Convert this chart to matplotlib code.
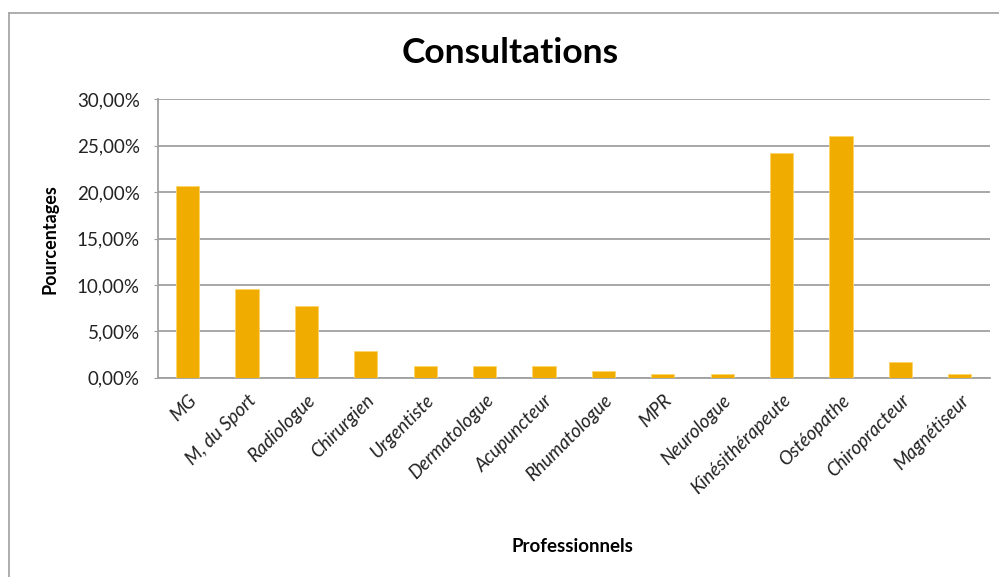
import matplotlib
matplotlib.use("Agg")
import matplotlib.pyplot as plt
from matplotlib.lines import Line2D
from matplotlib.ticker import FuncFormatter

categories = ["MG", "M, du Sport", "Radiologue", "Chirurgien", "Urgentiste",
              "Dermatologue", "Acupuncteur", "Rhumatologue", "MPR", "Neurologue",
              "Kinésithérapeute", "Ostéopathe", "Chiropracteur", "Magnétiseur"]
values = [20.65, 9.61, 7.74, 2.90, 1.23, 1.23, 1.23, 0.72, 0.37, 0.37,
          24.19, 26.06, 1.72, 0.37]
yticks = [0, 5, 10, 15, 20, 25, 30]

plt.rcParams['font.family'] = ['Lato', 'DejaVu Sans']

fig = plt.figure(figsize=(9.99, 5.77), dpi=100)
ax = fig.add_axes([0.158, 0.3454, 0.8326, 0.4822])

x = list(range(len(categories)))
ax.bar(x, values, width=0.39, color="#F0AD00", edgecolor="#FBD66A", linewidth=0.6, zorder=3)

ax.set_xlim(-0.5, len(categories) - 0.5)
ax.set_ylim(0, 30)
ax.set_yticks(yticks)
ax.yaxis.set_major_formatter(FuncFormatter(lambda v, p: f"{v:.2f}%".replace(".", ",")))
ax.grid(axis="y", color="#A0A0A0", linewidth=1.3, zorder=0)
ax.set_axisbelow(True)

ax.set_xticks(x)
ax.set_xticklabels(categories, rotation=45, ha="right", rotation_mode="anchor",
                   fontstyle="italic", fontsize=13.5, color="#222222")
ax.tick_params(axis="x", length=0, pad=10)
ax.tick_params(axis="y", length=3, color="#A0A0A0", labelsize=13.5, labelcolor="#222222", pad=10)

for s in ["top", "right"]:
    ax.spines[s].set_visible(False)
for s in ["left", "bottom"]:
    ax.spines[s].set_color("#A0A0A0")
    ax.spines[s].set_linewidth(1.3)

fig.text(0.511, 0.908, "Consultations", ha="center", va="center",
         fontsize=25.5, fontweight="bold", color="black")
fig.text(0.050, 0.5865, "Pourcentages", ha="center", va="center", rotation=90,
         fontsize=13, fontweight="bold", color="black")
fig.text(0.573, 0.052, "Professionnels", ha="center", va="center",
         fontsize=13.5, fontweight="bold", color="black")

# outer chart border (top and left visible)
fig.add_artist(Line2D([9/999, 9/999], [0, 1 - 13/577], transform=fig.transFigure,
                      color="#A8A8A8", linewidth=1.3))
fig.add_artist(Line2D([9/999, 1], [1 - 13/577, 1 - 13/577], transform=fig.transFigure,
                      color="#A8A8A8", linewidth=1.3))

fig.savefig("out.png", dpi=100)
